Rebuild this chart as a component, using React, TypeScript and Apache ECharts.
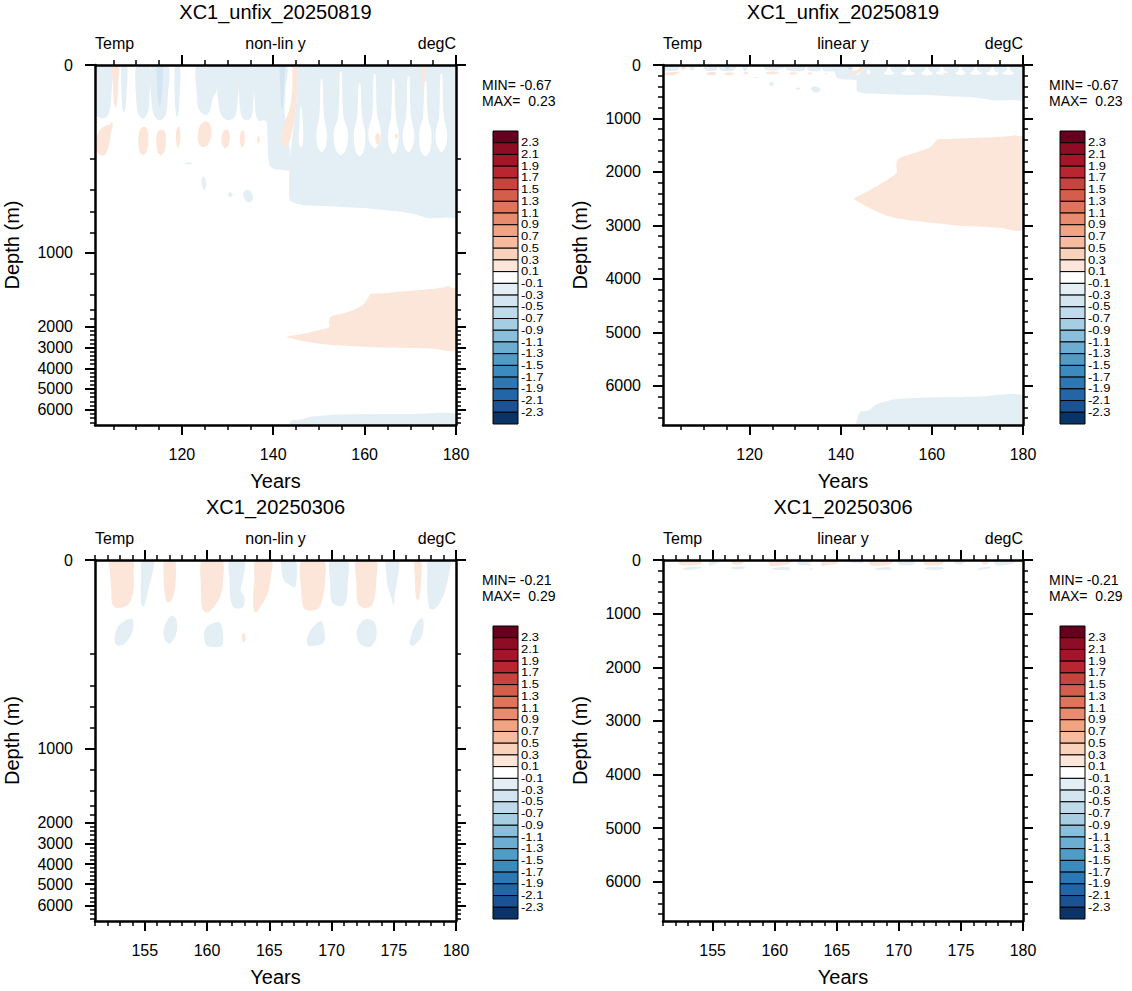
import { useEffect, useRef } from "react";
import * as echarts from "echarts";

const FONT = "'Liberation Sans', Arial, Helvetica, sans-serif";

// Contour interval boundaries (high to low) and the 25 fill colours between them
const contourLevels = [2.3, 2.1, 1.9, 1.7, 1.5, 1.3, 1.1, 0.9, 0.7, 0.5, 0.3, 0.1, -0.1, -0.3, -0.5, -0.7, -0.9, -1.1, -1.3, -1.5, -1.7, -1.9, -2.1, -2.3];
const fillColors = [
  "#67001f", "#8f0c25", "#a51429", "#b92530", "#c7433e", "#d45d4c", "#de745c", "#e88b6e",
  "#f2a482", "#f7bc9f", "#fad1ba", "#fce6da", "#ffffff", "#e3eef5", "#d3e5f0", "#bfdbeb",
  "#a5cee3", "#89bfdb", "#6cadd1", "#519cc7", "#3c8bbf", "#2c78b4", "#2366a8", "#1a5293", "#0a3467",
];

// Model level depths (m) and their relative position along the level-index axis
const levelDepths = [0, 200, 400, 600, 800, 1000, 1200, 1400, 1600, 1800, 2000, 3000, 4000, 5000, 6000, 6730];
const levelIndexFrac = [0, 0.2603, 0.3472, 0.4075, 0.4647, 0.5222, 0.5806, 0.6389, 0.6806, 0.7056, 0.7269, 0.7853, 0.8425, 0.8981, 0.9583, 1];
const depthMax = 6730;

const depthMajorTicks = [0, 1000, 2000, 3000, 4000, 5000, 6000];
const depthMinorTicks = [200, 400, 600, 800, 1200, 1400, 1600, 1800, 2200, 2400, 2600, 2800, 3200, 3400, 3600, 3800, 4200, 4400, 4600, 4800, 5200, 5400, 5600, 5800, 6200, 6400, 6600];

const yearRangeUnfix = [101, 180];
const yearMajorUnfix = [120, 140, 160, 180];
const yearMinorUnfix = [105, 110, 115, 125, 130, 135, 145, 150, 155, 165, 170, 175];

const yearRangeBase = [151, 180];
const yearMajorBase = [155, 160, 165, 170, 175, 180];
const yearMinorBase = [151, 152, 153, 154, 156, 157, 158, 159, 161, 162, 163, 164, 166, 167, 168, 169, 171, 172, 173, 174, 176, 177, 178, 179];

type Region = { v: number; pts: number[][] };

// XC1_unfix_20250819: contour regions as [year, depth m] outlines, v = field value of the band
const unfixSubsurfaceBlue: Region[] = [
  { v: -0.2, pts: [[145.4, 0], [180, 0], [180, 650], [178, 656], [174, 662], [171, 625], [168, 600], [165, 588], [160, 566], [155, 556], [150, 546], [146, 535], [144.4, 515], [143.6, 490], [143.5, 400], [143.5, 300], [143.6, 220], [144, 170], [144.6, 120], [145.1, 70], [145.3, 30]] },
];
const unfixSurfaceBlue: Region[] = [
  { v: -0.2, pts: [[101, 0], [104.6, 0], [104.6, 60], [104.3, 95], [103.6, 110], [102.5, 114], [101.5, 110], [101, 100]] },
  { v: -0.2, pts: [[106.8, 0], [108.0, 0], [107.9, 60], [107.6, 95], [107.2, 100], [106.9, 80]] },
  { v: -0.2, pts: [[110.1, 0], [112.9, 0], [112.9, 70], [112.6, 100], [111.6, 114], [110.6, 108], [110.1, 85]] },
  { v: -0.2, pts: [[113.4, 0], [117.0, 0], [116.9, 70], [116.5, 105], [115.4, 118], [114.2, 112], [113.5, 90]] },
  { v: -0.2, pts: [[118.5, 0], [119.6, 0], [119.5, 70], [119.2, 108], [118.8, 110], [118.5, 75]] },
  { v: -0.2, pts: [[123.3, 0], [127.7, 0], [127.6, 55], [126.7, 72], [126.3, 92], [125.6, 106], [124.5, 104], [123.6, 92], [123.3, 65]] },
  { v: -0.2, pts: [[128.0, 0], [132.3, 0], [132.2, 75], [131.7, 108], [130.4, 118], [129.0, 112], [128.1, 88]] },
  { v: -0.2, pts: [[132.7, 0], [135.6, 0], [135.6, 85], [135.2, 112], [134.2, 118], [133.2, 112], [132.7, 88]] },
  { v: -0.2, pts: [[136.0, 0], [142.8, 0], [142.7, 50], [142.5, 100], [143.0, 140], [143.6, 180], [143.6, 270], [142.0, 272], [140.2, 266], [139.2, 240], [138.9, 190], [138.7, 140], [138.5, 120], [137.8, 118], [137.0, 120], [136.3, 110], [136.0, 80]] },
  { v: -0.2, pts: [[120.7, 228], [122.0, 225], [122.2, 232], [121.0, 236]] },
  { v: -0.2, pts: [[124.3, 330], [124.7, 315], [125.2, 330], [125.3, 380], [124.9, 400], [124.5, 380]] },
  { v: -0.2, pts: [[130.1, 435], [130.6, 420], [131.2, 440], [130.8, 465], [130.3, 460]] },
  { v: -0.2, pts: [[133.4, 440], [134.0, 400], [134.9, 410], [135.6, 460], [135.2, 505], [134.3, 510], [133.7, 480]] },
];
const unfixSurfaceCores: Region[] = [
  { v: -0.4, pts: [[114.6, 0], [115.8, 0], [115.7, 50], [115.4, 85], [115.0, 88], [114.7, 60]] },
  { v: -0.4, pts: [[141.5, 0], [142.5, 0], [142.3, 60], [142.0, 95], [141.7, 80], [141.5, 35]] },
];
const unfixNeutralGaps: Region[] = [
  { v: 0, pts: [[145.9, 90], [146.2, 90], [146.5, 130], [146.6, 150], [146.4, 170], [146.1, 176], [145.7, 170], [145.6, 150], [145.7, 130]] },
  { v: 0, pts: [[150.4, 30], [150.8, 30], [151.0, 90], [151.2, 115], [151.7, 140], [151.7, 163], [151.3, 179], [150.6, 186], [149.9, 179], [149.5, 163], [149.5, 140], [150.0, 115], [150.2, 90]] },
  { v: 0, pts: [[154.6, 15], [155.0, 15], [155.2, 90], [155.5, 115], [156.3, 140], [156.3, 165], [155.7, 185], [154.8, 192], [153.9, 185], [153.3, 165], [153.3, 140], [154.1, 115], [154.4, 90]] },
  { v: 0, pts: [[158.7, 40], [159.1, 40], [159.3, 90], [159.5, 115], [160.1, 140], [160.1, 168], [159.6, 188], [158.9, 195], [158.2, 188], [157.7, 168], [157.7, 140], [158.3, 115], [158.5, 90]] },
  { v: 0, pts: [[162.0, 20], [162.4, 20], [162.6, 85], [162.8, 110], [163.5, 135], [163.5, 158], [163.0, 171], [162.2, 178], [161.4, 171], [160.9, 158], [160.9, 135], [161.6, 110], [161.8, 85]] },
  { v: 0, pts: [[166.1, 30], [166.5, 30], [166.7, 90], [166.9, 115], [167.4, 140], [167.4, 165], [166.9, 183], [166.3, 190], [165.7, 183], [165.2, 165], [165.2, 140], [165.7, 115], [165.9, 90]] },
  { v: 0, pts: [[169.4, 25], [169.8, 25], [170.0, 90], [170.2, 115], [170.8, 140], [170.8, 163], [170.3, 179], [169.6, 186], [168.9, 179], [168.4, 163], [168.4, 140], [169.0, 115], [169.2, 90]] },
  { v: 0, pts: [[173.1, 35], [173.5, 35], [173.7, 90], [173.9, 115], [174.6, 140], [174.6, 168], [174.1, 188], [173.3, 195], [172.5, 188], [172.0, 168], [172.0, 140], [172.7, 115], [172.9, 90]] },
  { v: 0, pts: [[176.6, 20], [177.0, 20], [177.2, 90], [177.4, 115], [178.0, 140], [178.0, 163], [177.5, 179], [176.8, 186], [176.1, 179], [175.6, 163], [175.6, 140], [176.2, 115], [176.4, 90]] },
];
const unfixSurfaceOrange: Region[] = [
  { v: 0.2, pts: [[104.8, 0], [106.2, 0], [106.1, 35], [105.9, 75], [105.5, 92], [105.1, 78], [104.9, 35]] },
  { v: 0.2, pts: [[144.3, 0], [145.3, 0], [145.2, 55], [144.9, 100], [144.4, 130], [143.7, 158], [142.9, 176], [142.1, 172], [141.9, 150], [142.5, 122], [143.4, 100], [144.0, 70], [144.2, 35]] },
  { v: 0.2, pts: [[172.6, 0], [173.2, 0], [173.1, 40], [172.9, 68], [172.7, 50]] },
  { v: 0.2, pts: [[101.3, 160], [101.9, 140], [103.0, 131], [104.2, 127], [104.7, 121], [104.9, 128], [104.5, 145], [104.1, 170], [103.3, 190], [102.1, 193], [101.3, 182]] },
  { v: 0.2, pts: [[110.5, 160], [110.8, 140], [111.6, 132], [112.4, 136], [112.7, 155], [112.5, 180], [111.7, 192], [110.8, 187]] },
  { v: 0.2, pts: [[114.4, 160], [114.7, 143], [115.5, 138], [116.3, 142], [116.5, 160], [116.3, 182], [115.5, 193], [114.7, 186]] },
  { v: 0.2, pts: [[118.7, 150], [119.0, 134], [119.5, 132], [119.7, 150], [119.5, 170], [119.0, 177]] },
  { v: 0.2, pts: [[123.5, 150], [123.9, 130], [124.9, 121], [126.0, 124], [126.5, 140], [126.2, 160], [125.3, 174], [124.2, 174], [123.6, 165]] },
  { v: 0.2, pts: [[128.7, 155], [129.2, 140], [130.0, 138], [130.5, 150], [130.3, 170], [129.5, 178], [128.9, 172]] },
  { v: 0.2, pts: [[132.7, 155], [133.0, 142], [133.6, 140], [133.8, 155], [133.6, 172], [133.0, 176]] },
  { v: 0.2, pts: [[136.5, 155], [136.9, 150], [137.0, 165], [136.6, 168]] },
  { v: 0.2, pts: [[162.3, 155], [162.8, 145], [163.4, 150], [163.3, 166], [162.7, 170]] },
  { v: 0.2, pts: [[166.6, 150], [167.0, 146], [167.3, 152], [167.0, 158]] },
];
const unfixDeep: Region[] = [
  { v: 0.2, pts: [[142.9, 2500], [145, 2400], [148, 2260], [150.5, 2130], [152.3, 2010], [152.2, 1880], [152.5, 1760], [154.5, 1690], [157, 1620], [159.5, 1540], [160.8, 1430], [161.3, 1390], [163.5, 1385], [166, 1375], [170, 1360], [174, 1345], [177.5, 1325], [178.3, 1315], [179, 1330], [180, 1340], [180, 3060], [175, 3045], [170, 3020], [165, 2995], [160, 2950], [156, 2910], [152, 2860], [149, 2780], [146, 2660], [144, 2560]] },
  { v: -0.2, pts: [[143.6, 6730], [143.7, 6600], [144.2, 6490], [145.5, 6470], [146.3, 6450], [147.5, 6360], [149, 6310], [152, 6250], [156, 6225], [160, 6210], [170, 6200], [180, 6190], [180, 6730]] },
];
const unfixRegions: Region[] = [
  ...unfixSubsurfaceBlue, ...unfixSurfaceBlue, ...unfixNeutralGaps, ...unfixSurfaceCores, ...unfixSurfaceOrange, ...unfixDeep,
];

// XC1_20250306: near-surface contour regions
const baseSurface: Region[] = [
  { v: 0.2, pts: [[152.2, 0], [154.0, 0], [154.1, 30], [154.1, 64], [153.9, 85], [153.5, 98], [152.8, 102], [152.4, 95], [152.3, 60], [152.2, 25]] },
  { v: -0.2, pts: [[154.8, 0], [155.7, 0], [155.6, 30], [155.3, 60], [155.1, 85], [154.9, 100], [154.7, 90], [154.7, 40]] },
  { v: 0.2, pts: [[156.6, 0], [157.4, 0], [157.5, 30], [157.4, 65], [157.1, 88], [156.8, 90], [156.6, 70], [156.5, 30]] },
  { v: 0.2, pts: [[159.6, 0], [161.2, 0], [161.3, 40], [161.1, 75], [160.6, 98], [160.0, 112], [159.6, 102], [159.5, 50]] },
  { v: -0.2, pts: [[161.8, 0], [163.0, 0], [162.9, 40], [162.7, 64], [163.0, 80], [162.9, 100], [162.2, 102], [161.9, 85], [161.8, 40]] },
  { v: 0.2, pts: [[163.9, 0], [165.2, 0], [165.1, 40], [164.9, 70], [164.4, 95], [163.9, 112], [163.7, 95], [163.8, 40]] },
  { v: -0.2, pts: [[166.0, 0], [167.1, 0], [167.1, 58], [166.6, 52], [166.2, 45], [166.0, 25]] },
  { v: 0.2, pts: [[167.6, 0], [169.4, 0], [169.5, 40], [169.3, 80], [169.0, 102], [168.4, 108], [167.8, 103], [167.6, 75]] },
  { v: -0.2, pts: [[169.9, 0], [171.3, 0], [171.3, 50], [171.2, 85], [170.9, 98], [170.3, 96], [170.0, 88], [169.9, 50]] },
  { v: 0.2, pts: [[172.0, 0], [173.6, 0], [173.6, 40], [173.5, 75], [173.2, 98], [172.6, 102], [172.1, 92], [172.0, 50]] },
  { v: -0.2, pts: [[174.4, 0], [175.4, 0], [175.3, 40], [175.1, 70], [175.0, 97], [174.8, 80], [174.5, 55], [174.4, 25]] },
  { v: 0.2, pts: [[176.7, 0], [177.2, 0], [177.2, 45], [177.0, 85], [176.8, 82], [176.7, 40]] },
  { v: -0.2, pts: [[177.8, 0], [179.5, 0], [179.4, 35], [179.0, 75], [178.4, 102], [177.9, 104], [177.7, 70], [177.7, 30]] },
];
const baseSubsurface: Region[] = [
  { v: -0.2, pts: [[152.6, 160], [152.9, 140], [153.5, 128], [154.0, 125], [154.1, 140], [153.9, 160], [153.3, 180], [152.8, 182], [152.6, 175]] },
  { v: -0.2, pts: [[156.5, 150], [156.8, 128], [157.2, 118], [157.5, 125], [157.6, 145], [157.4, 165], [157.0, 178], [156.6, 170]] },
  { v: -0.2, pts: [[159.8, 150], [160.2, 138], [160.9, 132], [161.2, 140], [161.2, 182], [160.0, 183], [159.8, 170]] },
  { v: 0.2, pts: [[162.8, 160], [163.0, 155], [163.1, 168], [162.9, 175]] },
  { v: -0.2, pts: [[168.0, 170], [168.3, 150], [168.8, 135], [169.2, 130], [169.4, 148], [169.4, 175], [168.5, 183], [168.1, 182]] },
  { v: -0.2, pts: [[172.0, 155], [172.3, 135], [172.9, 125], [173.5, 135], [173.6, 165], [173.1, 185], [172.3, 178]] },
  { v: -0.2, pts: [[176.3, 170], [176.6, 145], [177.0, 128], [177.3, 123], [177.4, 140], [177.2, 165], [176.6, 182], [176.3, 180]] },
];
const baseRegions: Region[] = [...baseSurface, ...baseSubsurface];

const unfixStats = { min: "-0.67", max: "0.23" };
const baseStats = { min: "-0.21", max: "0.29" };

function interp(x: number, xs: number[], ys: number[]) {
  if (x <= xs[0]) return ys[0];
  for (let i = 1; i < xs.length; i++) {
    if (x <= xs[i]) {
      const t = (x - xs[i - 1]) / (xs[i] - xs[i - 1]);
      return ys[i - 1] + t * (ys[i] - ys[i - 1]);
    }
  }
  return ys[ys.length - 1];
}
const toLevel = (d: number) => interp(d, levelDepths, levelIndexFrac);
const fromLevel = (p: number) => interp(p, levelIndexFrac, levelDepths);

function colorFor(v: number) {
  let k = 0;
  while (k < contourLevels.length && contourLevels[k] > v) k++;
  return fillColors[k];
}

const panels = [
  { title: "XC1_unfix_20250819", mode: "non-lin y", nonlin: true, years: yearRangeUnfix, xMajor: yearMajorUnfix, xMinor: yearMinorUnfix, regions: unfixRegions, stats: unfixStats, left: 95, top: 65, width: 361, height: 360 },
  { title: "XC1_unfix_20250819", mode: "linear y", nonlin: false, years: yearRangeUnfix, xMajor: yearMajorUnfix, xMinor: yearMinorUnfix, regions: unfixRegions, stats: unfixStats, left: 663, top: 65, width: 360, height: 360 },
  { title: "XC1_20250306", mode: "non-lin y", nonlin: true, years: yearRangeBase, xMajor: yearMajorBase, xMinor: yearMinorBase, regions: baseRegions, stats: baseStats, left: 95, top: 560, width: 361, height: 361 },
  { title: "XC1_20250306", mode: "linear y", nonlin: false, years: yearRangeBase, xMajor: yearMajorBase, xMinor: yearMinorBase, regions: baseRegions, stats: baseStats, left: 663, top: 560, width: 360, height: 361 },
];

const BLACK = "#000";

function buildOption() {
  const grids: any[] = [];
  const xAxes: any[] = [];
  const yAxes: any[] = [];
  const series: any[] = [];
  const graphics: any[] = [];

  panels.forEach((p, i) => {
    const tf = p.nonlin ? toLevel : (d: number) => d;
    grids.push({ left: p.left, top: p.top, width: p.width, height: p.height, show: false });

    const xAxis = (position: string, values: number[], major: boolean, labels: boolean) => ({
      type: "value", gridIndex: i, position, min: p.years[0], max: p.years[1], z: 10,
      axisLine: { show: major, onZero: false, lineStyle: { color: BLACK, width: 2.5 } },
      axisTick: { show: true, inside: false, length: major ? 10 : 5, customValues: values, lineStyle: { color: BLACK, width: major ? 2 : 1.5 } },
      axisLabel: labels
        ? { show: true, customValues: values, margin: 21, fontSize: 16, color: BLACK, fontFamily: FONT }
        : { show: false },
      splitLine: { show: false },
      name: labels ? "Years" : "",
      nameLocation: "middle", nameGap: 46,
      nameTextStyle: { fontSize: 20, color: BLACK, fontFamily: FONT },
    });
    xAxes.push(xAxis("bottom", p.xMajor, true, true));
    xAxes.push(xAxis("bottom", p.xMinor, false, false));
    xAxes.push(xAxis("top", p.xMajor, true, false));
    xAxes.push(xAxis("top", p.xMinor, false, false));

    const yAxis = (position: string, values: number[], major: boolean, labels: boolean) => ({
      type: "value", gridIndex: i, position, min: 0, max: tf(depthMax), inverse: true, z: 10,
      axisLine: { show: major, onZero: false, lineStyle: { color: BLACK, width: 2.5 } },
      axisTick: { show: true, inside: false, length: major ? 10 : 5, customValues: values.map(tf), lineStyle: { color: BLACK, width: major ? 2 : 1.5 } },
      axisLabel: labels
        ? {
            show: true, customValues: values.map(tf), margin: 22, fontSize: 16, color: BLACK, fontFamily: FONT,
            formatter: (val: number) => String(Math.round((p.nonlin ? fromLevel(val) : val) / 100) * 100),
          }
        : { show: false },
      splitLine: { show: false },
      name: labels ? "Depth (m)" : "",
      nameLocation: "middle", nameGap: 73, nameRotate: 90,
      nameTextStyle: { fontSize: 20, color: BLACK, fontFamily: FONT },
    });
    yAxes.push(yAxis("left", depthMajorTicks, true, true));
    yAxes.push(yAxis("left", depthMinorTicks, false, false));
    yAxes.push(yAxis("right", depthMajorTicks, true, false));
    yAxes.push(yAxis("right", depthMinorTicks, false, false));

    series.push({
      type: "custom", xAxisIndex: 4 * i, yAxisIndex: 4 * i, clip: true, silent: true, z: 2,
      data: p.regions.map((r) => [r.pts[0][0], tf(r.pts[0][1])]),
      encode: { x: 0, y: 1 },
      renderItem: (params: any, api: any) => {
        const r = p.regions[params.dataIndex];
        return {
          type: "polygon",
          shape: { points: r.pts.map(([yr, d]) => api.coord([yr, tf(d)])), smooth: 0.3 },
          style: { fill: colorFor(r.v), stroke: "none" },
        };
      },
    });

    const right = p.left + p.width;
    const cx = p.left + p.width / 2;
    const txt = (text: string, x: number, y: number, size: number, align: string, extra: any = {}) => ({
      type: "text", x, y, silent: true, ...extra,
      style: { text, fontSize: size, fontFamily: FONT, fill: BLACK, align, verticalAlign: "middle", ...(extra.style || {}) },
    });
    graphics.push(txt(p.title, cx, p.top - 53, 20, "center"));
    graphics.push(txt("Temp", p.left, p.top - 21.5, 16, "left"));
    graphics.push(txt(p.mode, cx, p.top - 21.5, 16, "center"));
    graphics.push(txt("degC", right, p.top - 21.5, 16, "right"));
    graphics.push(txt("MIN= " + p.stats.min, right + 26, p.top + 20, 14, "left"));
    graphics.push(txt("MAX= \u00a0" + p.stats.max, right + 26, p.top + 36, 14, "left"));

    // colour bar
    const cbLeft = right + 37;
    const cbTop = p.top + 66;
    const cbW = 25;
    const boxH = 293 / fillColors.length;
    fillColors.forEach((c, k) => {
      graphics.push({
        type: "rect", silent: true,
        shape: { x: cbLeft, y: cbTop + k * boxH, width: cbW, height: boxH },
        style: { fill: c, stroke: BLACK, lineWidth: 1 },
      });
    });
    contourLevels.forEach((lv, k) => {
      graphics.push(txt(lv.toFixed(1), cbLeft + cbW + 3, cbTop + (k + 1) * boxH, 13, "left", { scaleY: 0.82, style: { lineHeight: 11 } }));
    });
  });

  return {
    animation: false,
    backgroundColor: "#fff",
    grid: grids,
    xAxis: xAxes,
    yAxis: yAxes,
    series,
    graphic: graphics,
  };
}

export default function App() {
  const ref = useRef<HTMLDivElement>(null);
  useEffect(() => {
    if (!ref.current) return;
    const chart = echarts.init(ref.current, undefined, { renderer: "svg" });
    chart.setOption(buildOption() as any);
    return () => chart.dispose();
  }, []);
  return (
    <div
      ref={ref}
      style={{ position: "absolute", left: 0, top: 0, width: 1132, height: 991, background: "#fff" }}
    />
  );
}
